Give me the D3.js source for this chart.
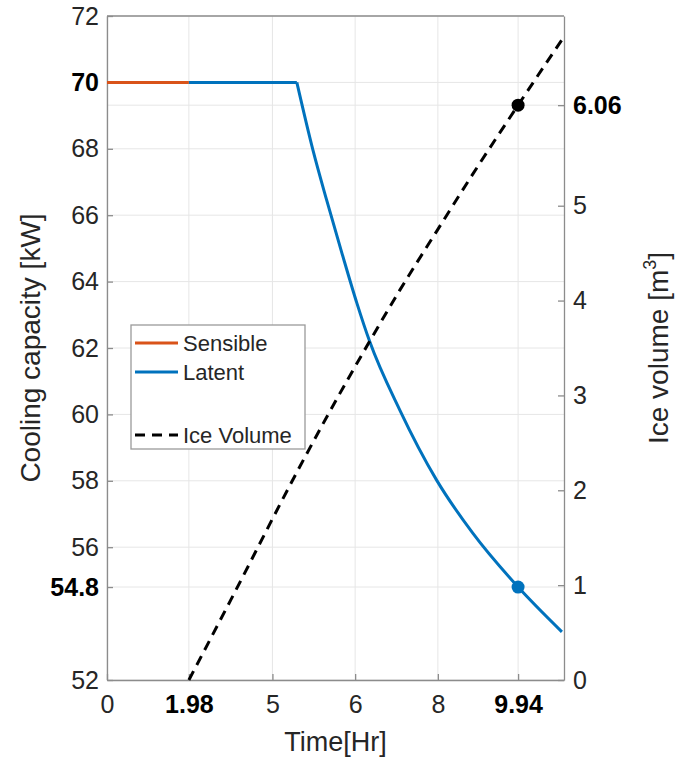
<!DOCTYPE html>
<html>
<head>
<meta charset="utf-8">
<script src="https://cdn.jsdelivr.net/npm/d3@7"></script>
<style>
    body { margin: 0; background: #fff; }
    svg text { font-family: "Liberation Sans", Arial, sans-serif; }
</style>
</head>
<body>
<div id="chart"></div>
<script>
// Data
var sensibleTime = [0, 1.98];
var sensibleKW   = [70, 70];

var latentTime = [1.98, 4.59, 4.98, 5.31, 5.68, 6.04, 6.35, 7.08, 7.97, 8.84, 9.94, 11.0];
var latentKW   = [70, 70, 67.96, 66.46, 64.86, 63.36, 62.2, 60.13, 58.02, 56.43, 54.8, 53.45];

var iceTime   = [1.98, 3.0, 4.59, 5.31, 6.35, 7.08, 7.97, 8.84, 9.94, 11.0];
var iceVolume = [0, 0.85, 2.19, 2.77, 3.57, 4.11, 4.73, 5.33, 6.06, 6.75];

var markTime = 9.94;
var markKW   = 54.8;
var markIce  = 6.06;

var xTicks      = [0, 1.98, 4, 6, 8, 9.94];
var xTickLabels = ['0', '1.98', '5', '6', '8', '9.94'];
var xBold       = ['1.98', '9.94'];
var leftTicks   = [52, 54.8, 56, 58, 60, 62, 64, 66, 68, 70, 72];
var leftBold    = [54.8, 70];
var rightTicks  = [0, 1, 2, 3, 4, 5, 6.06];
var rightBold   = [6.06];

var legendNames = ['Sensible', 'Latent', '', 'Ice Volume'];

// Chart params
var width  = 686;
var height = 759;
var left   = 107;
var right  = 564;
var top_   = 16;
var bottom = 680;

var orange    = '#d95319';
var blue      = '#0072bd';
var gridColor = '#e6e6e6';
var axisColor = '#8c8c8c';
var textColor = '#262626';

var svg = d3.select('#chart')
    .append('svg')
    .attr('width', width)
    .attr('height', height);

// Scales
var x_scale = d3.scaleLinear().domain([0, 11.05]).range([left, right]);
var yl_scale = d3.scaleLinear().domain([52, 72]).range([bottom, top_]);
var yr_scale = d3.scaleLinear().domain([0, 7]).range([bottom, top_]);

// Grid
var grid = svg.append('g').attr('stroke', gridColor).attr('stroke-width', 1);
grid.selectAll('.gx')
    .data(xTicks)
    .enter()
    .append('line')
    .attr('x1', function(d) { return x_scale(d); })
    .attr('x2', function(d) { return x_scale(d); })
    .attr('y1', top_)
    .attr('y2', bottom);
grid.selectAll('.gy')
    .data(leftTicks)
    .enter()
    .append('line')
    .attr('x1', left)
    .attr('x2', right)
    .attr('y1', function(d) { return yl_scale(d); })
    .attr('y2', function(d) { return yl_scale(d); });
grid.selectAll('.gr')
    .data(rightBold)
    .enter()
    .append('line')
    .attr('x1', left)
    .attr('x2', right)
    .attr('y1', function(d) { return yr_scale(d); })
    .attr('y2', function(d) { return yr_scale(d); });

// Axes (MATLAB style, ticks inside)
function styleAxis(g, boldTest) {
    g.select('.domain').attr('stroke', axisColor).attr('stroke-width', 1.3);
    g.selectAll('.tick line').attr('stroke', axisColor).attr('stroke-width', 1.3);
    g.selectAll('.tick text')
        .attr('font-size', 25)
        .attr('fill', function(d, i) { return boldTest(d, i) ? '#000' : textColor; })
        .attr('font-weight', function(d, i) { return boldTest(d, i) ? 'bold' : 'normal'; });
}

var x_axis = d3.axisBottom(x_scale)
    .tickValues(xTicks)
    .tickFormat(function(d, i) { return xTickLabels[i]; })
    .tickSizeInner(-6)
    .tickSizeOuter(0)
    .tickPadding(15);
var gx = svg.append('g')
    .attr('transform', 'translate(0,' + bottom + ')')
    .call(x_axis);
styleAxis(gx, function(d, i) { return xBold.indexOf(xTickLabels[i]) >= 0; });

var yl_axis = d3.axisLeft(yl_scale)
    .tickValues(leftTicks)
    .tickFormat(function(d) { return String(d); })
    .tickSizeInner(-6)
    .tickSizeOuter(0)
    .tickPadding(8);
var gyl = svg.append('g')
    .attr('transform', 'translate(' + left + ',0)')
    .call(yl_axis);
styleAxis(gyl, function(d) { return leftBold.indexOf(d) >= 0; });

var yr_axis = d3.axisRight(yr_scale)
    .tickValues(rightTicks)
    .tickFormat(function(d) { return String(d); })
    .tickSizeInner(-6)
    .tickSizeOuter(0)
    .tickPadding(9);
var gyr = svg.append('g')
    .attr('transform', 'translate(' + right + ',0)')
    .call(yr_axis);
styleAxis(gyr, function(d) { return rightBold.indexOf(d) >= 0; });

// top border
svg.append('line')
    .attr('x1', left).attr('x2', right)
    .attr('y1', top_).attr('y2', top_)
    .attr('stroke', axisColor).attr('stroke-width', 1.3);

// Lines
var sensibleLine = d3.line()
    .x(function(d) { return x_scale(d[0]); })
    .y(function(d) { return yl_scale(d[1]); });

svg.append('path')
    .datum(d3.zip(sensibleTime, sensibleKW))
    .attr('d', sensibleLine)
    .attr('fill', 'none')
    .attr('stroke', orange)
    .attr('stroke-width', 3);

var latentPts = d3.zip(latentTime, latentKW);
// flat part straight, decay part smooth
svg.append('path')
    .datum(latentPts.slice(0, 2))
    .attr('d', sensibleLine)
    .attr('fill', 'none')
    .attr('stroke', blue)
    .attr('stroke-width', 3);
svg.append('path')
    .datum(latentPts.slice(1))
    .attr('d', sensibleLine.curve(d3.curveMonotoneX))
    .attr('fill', 'none')
    .attr('stroke', blue)
    .attr('stroke-width', 3);

var iceLine = d3.line()
    .curve(d3.curveMonotoneX)
    .x(function(d) { return x_scale(d[0]); })
    .y(function(d) { return yr_scale(d[1]); });

svg.append('path')
    .datum(d3.zip(iceTime, iceVolume))
    .attr('d', iceLine)
    .attr('fill', 'none')
    .attr('stroke', '#000')
    .attr('stroke-width', 3)
    .attr('stroke-dasharray', '10,7');

// Markers
svg.append('circle')
    .attr('cx', x_scale(markTime))
    .attr('cy', yl_scale(markKW))
    .attr('r', 6.5)
    .attr('fill', blue);
svg.append('circle')
    .attr('cx', x_scale(markTime))
    .attr('cy', yr_scale(markIce))
    .attr('r', 6.5)
    .attr('fill', '#000');

// Axis labels
svg.append('text')
    .attr('transform', 'translate(40,' + (top_ + bottom) / 2 + ') rotate(-90)')
    .attr('text-anchor', 'middle')
    .attr('font-size', 28)
    .attr('fill', textColor)
    .text('Cooling capacity [kW]');

var rl = svg.append('text')
    .attr('transform', 'translate(668,' + (top_ + bottom) / 2 + ') rotate(-90)')
    .attr('text-anchor', 'middle')
    .attr('font-size', 28)
    .attr('fill', textColor);
rl.append('tspan').text('Ice volume [m');
rl.append('tspan').attr('font-size', 18).attr('dy', -12).text('3');
rl.append('tspan').attr('dy', 12).text(']');

svg.append('text')
    .attr('x', (left + right) / 2)
    .attr('y', 751)
    .attr('text-anchor', 'middle')
    .attr('font-size', 27)
    .attr('fill', textColor)
    .text('Time[Hr]');

// Legend
var legend = svg.append('g');
legend.append('rect')
    .attr('x', 131).attr('y', 325)
    .attr('width', 174).attr('height', 124)
    .attr('fill', '#fff')
    .attr('stroke', '#9a9a9a')
    .attr('stroke-width', 1.3);

var legendColors = [orange, blue, null, '#000'];
var legendRows = [343, 372, 404, 435];

var items = legend.selectAll('.item')
    .data(legendNames)
    .enter()
    .append('g')
    .attr('transform', function(d, i) { return 'translate(0,' + legendRows[i] + ')'; });

items.filter(function(d) { return d !== ''; })
    .append('line')
    .attr('x1', 135).attr('x2', 178)
    .attr('y1', 0).attr('y2', 0)
    .attr('stroke', function(d) { return legendColors[legendNames.indexOf(d)]; })
    .attr('stroke-width', 3)
    .attr('stroke-dasharray', function(d) { return d === 'Ice Volume' ? '10,7' : null; });

items.append('text')
    .attr('x', 183)
    .attr('y', 8)
    .attr('font-size', 22)
    .attr('fill', textColor)
    .text(function(d) { return d; });
</script>
</body>
</html>
